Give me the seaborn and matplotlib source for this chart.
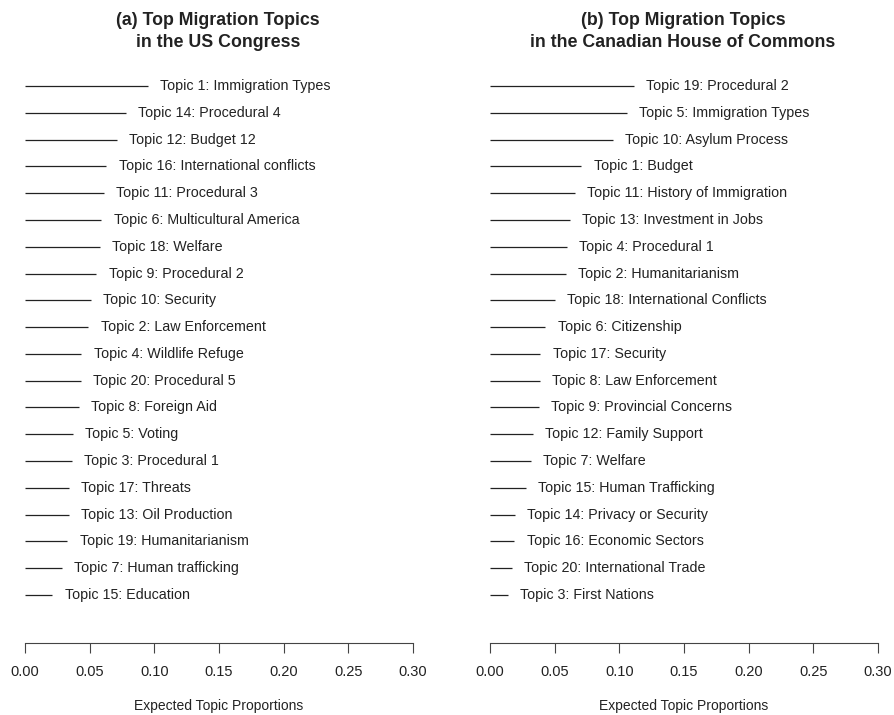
import numpy as np
import matplotlib
matplotlib.use("Agg")
import matplotlib.pyplot as plt
import seaborn as sns

# Data (ordered top to bottom as in the chart)
us_labels = ["Topic 1: Immigration Types", "Topic 14: Procedural 4", "Topic 12: Budget 12",
             "Topic 16: International conflicts", "Topic 11: Procedural 3", "Topic 6: Multicultural America",
             "Topic 18: Welfare", "Topic 9: Procedural 2", "Topic 10: Security",
             "Topic 2: Law Enforcement", "Topic 4: Wildlife Refuge", "Topic 20: Procedural 5",
             "Topic 8: Foreign Aid", "Topic 5: Voting", "Topic 3: Procedural 1",
             "Topic 17: Threats", "Topic 13: Oil Production", "Topic 19: Humanitarianism",
             "Topic 7: Human trafficking", "Topic 15: Education"]
us_props = [0.0951, 0.0779, 0.0712, 0.0630, 0.0612, 0.0591, 0.0578, 0.0553, 0.0509, 0.0491,
            0.0437, 0.0432, 0.0416, 0.0368, 0.0360, 0.0339, 0.0337, 0.0329, 0.0288, 0.0213]

ca_labels = ["Topic 19: Procedural 2", "Topic 5: Immigration Types", "Topic 10: Asylum Process",
             "Topic 1: Budget", "Topic 11: History of Immigration", "Topic 13: Investment in Jobs",
             "Topic 4: Procedural 1", "Topic 2: Humanitarianism", "Topic 18: International Conflicts",
             "Topic 6: Citizenship", "Topic 17: Security", "Topic 8: Law Enforcement",
             "Topic 9: Provincial Concerns", "Topic 12: Family Support", "Topic 7: Welfare",
             "Topic 15: Human Trafficking", "Topic 14: Privacy or Security", "Topic 16: Economic Sectors",
             "Topic 20: International Trade", "Topic 3: First Nations"]
ca_props = [0.1110, 0.1061, 0.0951, 0.0707, 0.0655, 0.0617, 0.0596, 0.0586, 0.0501, 0.0429,
            0.0391, 0.0386, 0.0380, 0.0334, 0.0314, 0.0278, 0.0193, 0.0188, 0.0172, 0.0141]

titles = ["(a) Top Migration Topics\nin the US Congress",
          "(b) Top Migration Topics\nin the Canadian House of Commons"]
xticks = [0.00, 0.05, 0.10, 0.15, 0.20, 0.25, 0.30]

sns.set_style("white")
plt.rcParams["font.family"] = ["Liberation Sans", "DejaVu Sans"]

fig = plt.figure(figsize=(8.94, 7.15), dpi=100)
ink = "#222222"

panels = [(us_labels, us_props, 0.0105, 218), (ca_labels, ca_props, 0.5306, 683)]
for (labels, props, left, tcenter), title in zip(panels, titles):
    ax = fig.add_axes([left, 0.1004, 0.469, 0.8093])
    n = len(labels)
    ys = np.arange(n, 0, -1)
    ax.hlines(ys, 0, props, color=ink, linewidth=0.9)
    for y, p, lab in zip(ys, props, labels):
        ax.text(p + 0.0095, y, lab, ha="left", va="center", fontsize=10.3, color=ink)
    ax.set_xlim(-0.012, 0.312)
    ax.set_ylim(-0.8, n + 0.8)
    ax.set_yticks([])
    ax.set_xticks(xticks)
    ax.set_xticklabels([f"{t:.2f}" for t in xticks], fontsize=10.5, color=ink)
    ax.tick_params(axis="x", direction="out", length=7, width=0.8, color="#444444", pad=9, bottom=True)
    for s in ["top", "right", "left"]:
        ax.spines[s].set_visible(False)
    ax.spines["bottom"].set_bounds(0, 0.30)
    ax.spines["bottom"].set_color("#444444")
    ax.spines["bottom"].set_linewidth(0.8)
    ax.set_xlabel("Expected Topic Proportions", fontsize=10, color=ink, labelpad=14)
    fig.text(tcenter / 894, 1 - 31.5 / 715, title, ha="center", va="center",
             fontsize=12.8, fontweight="bold", color=ink, linespacing=1.35)

fig.savefig("out.png", dpi=100)
